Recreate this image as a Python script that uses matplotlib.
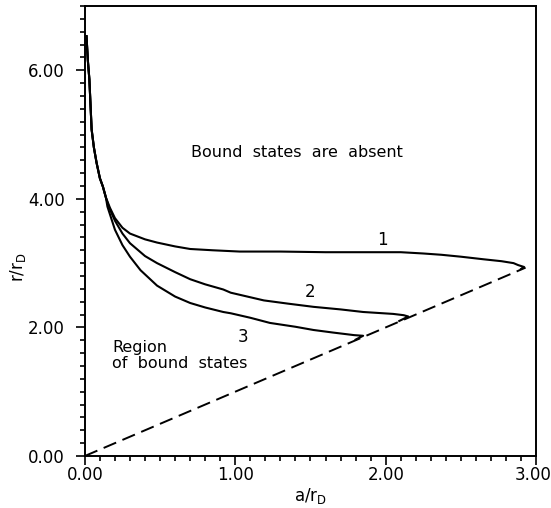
#!/usr/bin/env python3

import matplotlib
matplotlib.use("Agg")
import matplotlib.pyplot as plt
from matplotlib.ticker import MultipleLocator, FormatStrFormatter
from matplotlib.transforms import ScaledTranslation

# =========================
# Data
# =========================
# common steep part near the y axis
head_x = [0.011, 0.02, 0.03, 0.045, 0.06, 0.078, 0.10, 0.12, 0.14]
head_y = [6.53, 6.15, 5.86, 5.08, 4.80, 4.56, 4.32, 4.19, 4.02]

curve1_x = [0.167, 0.20, 0.25, 0.30, 0.40, 0.48, 0.60, 0.70, 0.85, 1.03, 1.30,
            1.60, 1.90, 2.10, 2.25, 2.37, 2.50, 2.65, 2.77, 2.85, 2.88, 2.92, 2.90]
curve1_y = [3.86, 3.70, 3.55, 3.46, 3.37, 3.32, 3.26, 3.22, 3.20, 3.18, 3.18,
            3.17, 3.17, 3.17, 3.15, 3.13, 3.10, 3.06, 3.03, 3.00, 2.97, 2.94, 2.91]

curve2_x = [0.16, 0.20, 0.25, 0.30, 0.40, 0.48, 0.60, 0.70, 0.80, 0.92, 0.97,
            1.19, 1.35, 1.52, 1.70, 1.85, 2.05, 2.12, 2.15, 2.09]
curve2_y = [3.87, 3.66, 3.46, 3.31, 3.11, 3.00, 2.86, 2.75, 2.67, 2.59, 2.54,
            2.42, 2.37, 2.32, 2.28, 2.24, 2.21, 2.19, 2.17, 2.10]

curve3_x = [0.15, 0.20, 0.25, 0.30, 0.37, 0.48, 0.60, 0.70, 0.80, 0.92, 0.97,
            1.10, 1.23, 1.40, 1.52, 1.65, 1.79, 1.85, 1.80]
curve3_y = [3.88, 3.52, 3.28, 3.10, 2.89, 2.65, 2.48, 2.38, 2.31, 2.24, 2.22,
            2.15, 2.07, 2.01, 1.96, 1.92, 1.88, 1.87, 1.81]

curves = [
    (curve1_x, curve1_y),
    (curve2_x, curve2_y),
    (curve3_x, curve3_y),
]

# boundary a = r (dashed)
border_x = [0.0, 2.93]
border_y = [0.0, 2.93]

curve_labels = ["1", "2", "3"]
curve_label_x = [1.98, 1.50, 1.05]
curve_label_y = [3.36, 2.55, 1.85]

x_ticks = [0.0, 1.0, 2.0, 3.0]
y_ticks = [0.0, 2.0, 4.0, 6.0]
x_minor = 0.1
y_minor = 0.2

# =========================
# Plot
# =========================
plt.rcParams["font.family"] = ["DejaVu Sans"]
plt.rcParams["mathtext.default"] = "regular"

fig = plt.figure(figsize=(5.51, 5.08), dpi=100)
ax = fig.add_axes([0.154, 0.1024, 0.819, 0.8858])

for cx, cy in curves:
    ax.plot(head_x + cx, head_y + cy, color="black", lw=1.5,
            solid_joinstyle="round")

ax.plot(border_x, border_y, color="black", lw=1.4, dashes=(7, 3.5))

for lab, lx, ly in zip(curve_labels, curve_label_x, curve_label_y):
    ax.text(lx, ly, lab, fontsize=12, ha="center", va="center")

ax.text(1.41, 4.72, "Bound  states  are  absent", fontsize=11.5,
        ha="center", va="center")
ax.text(0.18, 1.62, "Region", fontsize=11.5, ha="left", va="baseline")
ax.text(0.18, 1.37, "of  bound  states", fontsize=11.5, ha="left",
        va="baseline")

ax.set_xlim(0, 3)
ax.set_ylim(0, 7)

ax.set_xticks(x_ticks)
ax.set_yticks(y_ticks)
ax.xaxis.set_minor_locator(MultipleLocator(x_minor))
ax.yaxis.set_minor_locator(MultipleLocator(y_minor))
ax.xaxis.set_major_formatter(FormatStrFormatter("%.2f"))
ax.yaxis.set_major_formatter(FormatStrFormatter("%.2f"))

ax.tick_params(which="both", direction="out", width=1.2, labelsize=12)
ax.tick_params(which="major", length=6.5)
ax.tick_params(which="minor", length=3.6)
ax.tick_params(axis="x", which="major", pad=1)
ax.tick_params(axis="y", which="major", pad=8)

for s in ax.spines.values():
    s.set_linewidth(1.4)

ax.set_xlabel("a/r$_D$", fontsize=12, labelpad=1)
ax.set_ylabel("r/r$_D$", fontsize=12, va="center")
ax.yaxis.set_label_coords(-0.149, 0.42)

# keep the last x tick label inside the figure, as in the original
fig.canvas.draw()
last = ax.xaxis.get_major_ticks()[3].label1
last.set_horizontalalignment("right")
last.set_transform(last.get_transform()
                   + ScaledTranslation(0.15, 0, fig.dpi_scale_trans))

fig.savefig("out.png", dpi=100)
plt.close(fig)
